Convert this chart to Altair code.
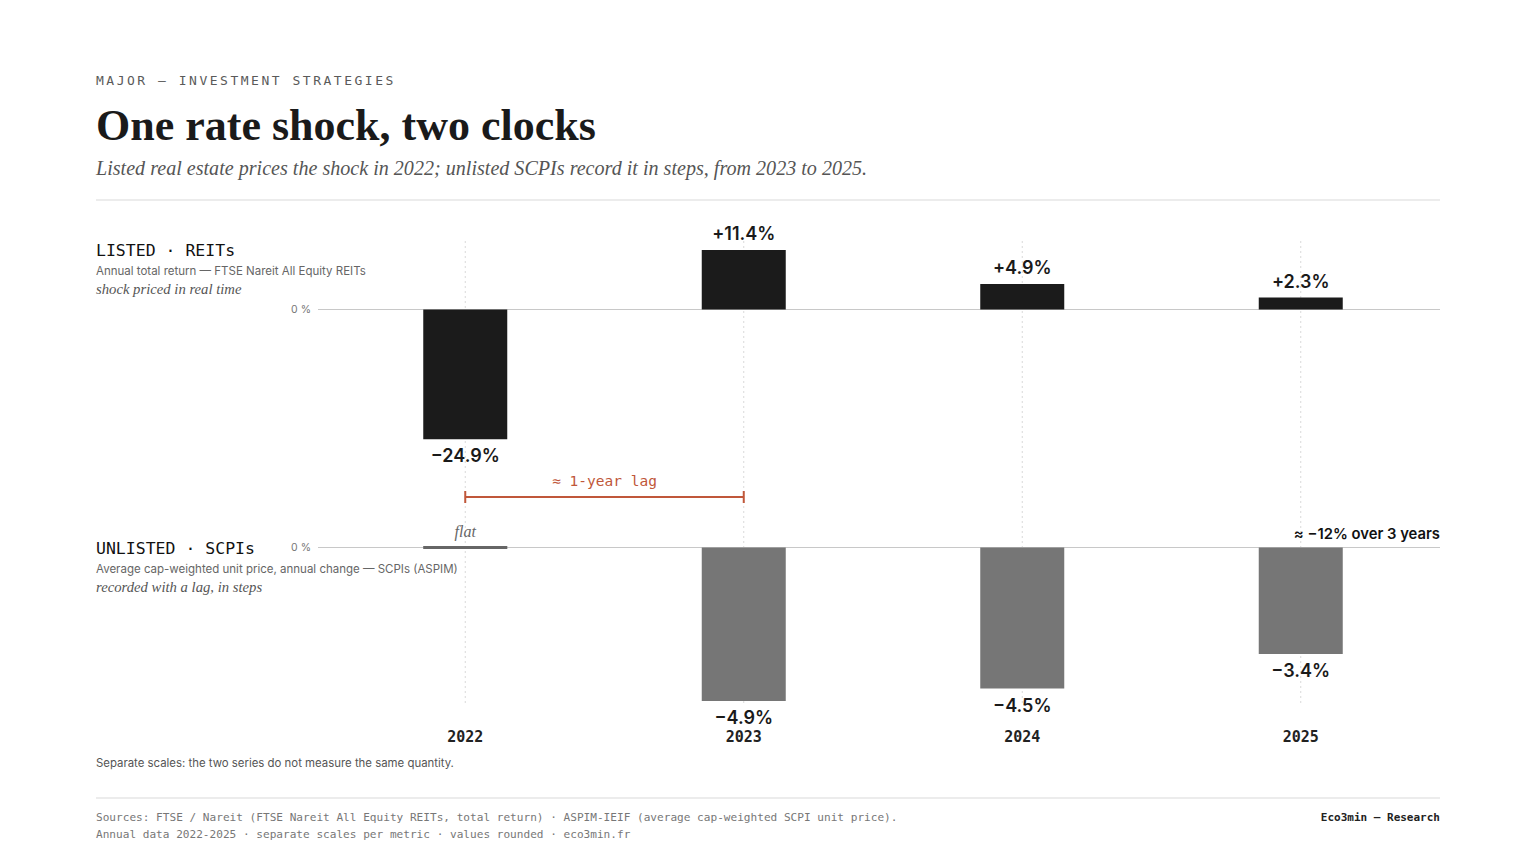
import altair as alt
import pandas as pd

# ---- data ----
years = [2022, 2023, 2024, 2025]
reits = [-24.9, 11.4, 4.9, 2.3]          # FTSE Nareit All Equity REITs, annual total return (%)
scpi = [0.0, -4.9, -4.5, -3.4]            # SCPI avg cap-weighted unit price, annual change (%)
year_labels = ["2022", "2023", "2024", "2025"]
lag_span = [2022, 2023]

kicker = "MAJOR — INVESTMENT STRATEGIES"
title = "One rate shock, two clocks"
subtitle = "Listed real estate prices the shock in 2022; unlisted SCPIs record it in steps, from 2023 to 2025."


def fmt(v):
    return ("+" if v > 0 else "−") + f"{abs(v):.1f}%"


top = pd.DataFrame({"year": years, "value": reits, "label": [fmt(v) for v in reits]})
bot = pd.DataFrame({"year": years, "value": scpi, "label": [fmt(v) for v in scpi]})
bot_bars = bot[bot["value"] != 0]
bot_flat = bot[bot["value"] == 0].assign(x0=lambda d: d["year"] - 0.151, x1=lambda d: d["year"] + 0.151)
yrs = pd.DataFrame({"year": years, "label": year_labels})
lag = pd.DataFrame({"start": [lag_span[0]], "end": [lag_span[1]], "mid": [sum(lag_span) / 2]})
lag_ends = pd.DataFrame({"year": lag_span})
one = pd.DataFrame({"a": [0]})

O = 8  # page margin offset

SANS = "Inter"
MONO = "DejaVu Sans Mono"
SERIF = "Liberation Serif"

xs = alt.Scale(domain=[2021.5, 2025.5], range=[326 - O, 1440 - O], padding=0, nice=False, zero=False)
# top panel: zero at page y 309.5, 5.21 px per point
ys_top = alt.Scale(domain=[-30, 15], range=[309.5 - O + 30 * 5.21, 309.5 - O - 15 * 5.21], nice=False)
# bottom panel: zero at page y 547.5, 31.35 px per point
ys_bot = alt.Scale(domain=[-6, 1], range=[547.5 - O + 6 * 31.35, 547.5 - O - 1 * 31.35], nice=False)


def X(field):
    return alt.X(field, type="quantitative", scale=xs, axis=None)


def txt(s, x, y, size, font=SANS, color="#222", weight="normal", style="normal",
        align="left", baseline="middle"):
    return alt.Chart(one).mark_text(
        fontSize=size, font=font, color=color, fontWeight=weight, fontStyle=style,
        align=align, baseline=baseline,
    ).encode(x=alt.value(x - O), y=alt.value(y - O), text=alt.value(s))


def hline(x0, x1, y, color, width=1):
    return alt.Chart(one).mark_rule(color=color, strokeWidth=width).encode(
        x=alt.value(x0 - O), x2=alt.value(x1 - O), y=alt.value(y - O))


# kicker, letter-spaced
kdf = pd.DataFrame({"ch": list(kicker)})
kdf["px"] = [96 - O + i * 10.34 for i in range(len(kicker))]
kicker_layer = alt.Chart(kdf).mark_text(
    fontSize=13, font=MONO, color="#5a5a5a", align="left", baseline="middle"
).encode(x=alt.X("px:Q", scale=None, axis=None), y=alt.value(81 - O), text="ch:N")

layers = [
    kicker_layer,
    txt(title, 96, 140, 44, font=SERIF, color="#1a1a1a", weight="bold", baseline="alphabetic"),
    txt(subtitle, 96, 169, 20.1, font=SERIF, color="#555", style="italic"),
    hline(96, 1440, 200, "#e6e6e6", 1.5),

    # vertical dotted guides
    alt.Chart(yrs).mark_rule(color="#d9d9d9", strokeDash=[2, 3], strokeWidth=1).encode(
        x=X("year"), y=alt.value(241 - O), y2=alt.value(705 - O)),

    # top panel
    txt("LISTED · REITs", 96, 251, 16.5, font=MONO, color="#111"),
    txt("Annual total return — FTSE Nareit All Equity REITs", 96, 272, 11.5, color="#666"),
    txt("shock priced in real time", 96, 290, 14.7, font=SERIF, color="#555", style="italic"),
    txt("0 %", 311, 310, 10.5, color="#777", align="right"),
    hline(318, 1440, 309.5, "#c8c8c8", 1.2),
    alt.Chart(top).mark_bar(size=84, color="#1b1b1b").encode(
        x=X("year"), y=alt.Y("value:Q", scale=ys_top, axis=None), y2=alt.Y2(datum=0)),
    alt.Chart(top[top["value"] > 0]).mark_text(
        fontSize=18, font=SANS, fontWeight=600, color="#1a1a1a", baseline="middle", dy=-15
    ).encode(x=X("year"), y=alt.Y("value:Q", scale=ys_top, axis=None), text="label:N"),
    alt.Chart(top[top["value"] < 0]).mark_text(
        fontSize=18, font=SANS, fontWeight=600, color="#1a1a1a", baseline="middle", dy=18
    ).encode(x=X("year"), y=alt.Y("value:Q", scale=ys_top, axis=None), text="label:N"),

    # lag bracket
    alt.Chart(lag).mark_rule(color="#c0573a", strokeWidth=2).encode(
        x=X("start"), x2="end:Q", y=alt.value(497 - O)),
    alt.Chart(lag_ends).mark_rule(color="#c0573a", strokeWidth=2).encode(
        x=X("year"), y=alt.value(491 - O), y2=alt.value(503 - O)),
    alt.Chart(lag).mark_text(
        fontSize=14.5, font=MONO, color="#c0573a", baseline="middle"
    ).encode(x=X("mid"), y=alt.value(482 - O), text=alt.value("≈ 1-year lag")),

    # bottom panel
    txt("UNLISTED · SCPIs", 96, 549, 16.5, font=MONO, color="#111"),
    txt("Average cap-weighted unit price, annual change — SCPIs (ASPIM)", 96, 570, 11.5, color="#666"),
    txt("recorded with a lag, in steps", 96, 588, 14.7, font=SERIF, color="#555", style="italic"),
    txt("0 %", 311, 548, 10.5, color="#777", align="right"),
    hline(318, 1440, 547.5, "#c8c8c8", 1.2),
    alt.Chart(bot_bars).mark_bar(size=84, color="#767676").encode(
        x=X("year"), y=alt.Y("value:Q", scale=ys_bot, axis=None), y2=alt.Y2(datum=0)),
    alt.Chart(bot_flat).mark_rule(color="#666", strokeWidth=3).encode(
        x=X("x0"), x2="x1:Q", y=alt.Y("value:Q", scale=ys_bot, axis=None)),
    alt.Chart(bot_flat).mark_text(
        fontSize=16, font=SERIF, fontStyle="italic", color="#666", baseline="middle", dy=-16
    ).encode(x=X("year"), y=alt.Y("value:Q", scale=ys_bot, axis=None), text=alt.value("flat")),
    alt.Chart(bot_bars).mark_text(
        fontSize=18, font=SANS, fontWeight=600, color="#1a1a1a", baseline="middle", dy=18
    ).encode(x=X("year"), y=alt.Y("value:Q", scale=ys_bot, axis=None), text="label:N"),
    txt("≈ −12% over 3 years", 1440, 535, 14.8, weight=600, color="#111", align="right"),

    # year labels
    alt.Chart(yrs).mark_text(
        fontSize=15, font=MONO, fontWeight="bold", color="#222", baseline="middle"
    ).encode(x=X("year"), y=alt.value(737 - O), text="label:N"),

    txt("Separate scales: the two series do not measure the same quantity.", 96, 764, 11.4, color="#555"),
    hline(96, 1440, 798, "#e6e6e6", 1.5),
    txt("Sources: FTSE / Nareit (FTSE Nareit All Equity REITs, total return) · ASPIM-IEIF (average cap-weighted SCPI unit price).",
        96, 818, 11.1, font=MONO, color="#777"),
    txt("Annual data 2022-2025 · separate scales per metric · values rounded · eco3min.fr",
        96, 835, 11.1, font=MONO, color="#777"),
    txt("Eco3min — Research", 1440, 818, 11, font=MONO, color="#222", weight="bold", align="right"),
]

chart = alt.layer(*layers).resolve_scale(x="independent", y="independent").properties(
    width=1520, height=848, padding=0,
    autosize=alt.AutoSizeParams(type="none"),
).configure(
    background="white",
    view=alt.ViewConfig(stroke=None),
    scale=alt.ScaleConfig(continuousPadding=0),
)

chart.save("out.html", embed_options={"renderer": "svg", "actions": False})
